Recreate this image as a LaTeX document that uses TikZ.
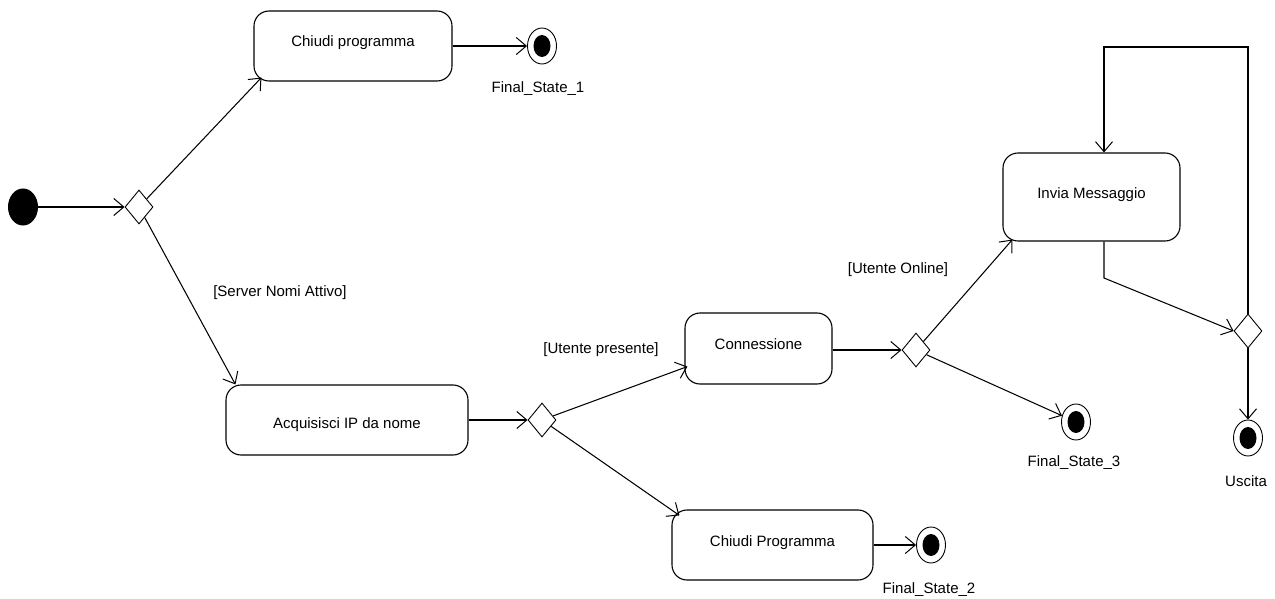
\documentclass[tikz,border=0pt]{standalone}
\usepackage{fontspec}
\setmainfont{Liberation Sans}
\usetikzlibrary{arrows.meta,shapes.geometric,calc}
\begin{document}
\begin{tikzpicture}[x=1pt,y=-1pt,
  every node/.style={font=\fontsize{15}{18}\selectfont},
  activity/.style={draw, rectangle, rounded corners=15pt, line width=1.1pt,
    inner sep=0pt, text height=10pt, text depth=8pt},
  decision/.style={draw, diamond, line width=0.9pt, minimum width=28pt,
    minimum height=34pt, inner sep=0pt},
  start/.style={fill, ellipse, minimum width=30pt, minimum height=37pt, inner sep=0pt},
  final/.style={draw, ellipse, line width=0.9pt, minimum width=29pt,
    minimum height=36pt, inner sep=0pt,
    path picture={\fill (path picture bounding box.center) ellipse (8.5pt and 11pt);}},
  flow/.style={line width=1.05pt, -{Straight Barb[length=10pt,width=17pt,line width=1pt]}},
  guard/.style={inner sep=0pt}]
\useasboundingbox (0,0) rectangle (1275,599);

% states
\node[start] (init) at (23,207) {};
\node[decision] (d1) at (139,207) {};
\node[activity, minimum width=198pt, minimum height=70pt] (cp1) at (353,46) {Chiudi programma};
\node[final] (fs1) at (542,46) {};
\node (fs1l) at (538,89) {Final\_State\_1};

\node[activity, minimum width=242pt, minimum height=70pt, text height=18pt, text depth=1.6pt] (acq) at (347,420) {Acquisisci IP da nome};
\node[decision] (d2) at (542,420) {};

\node[activity, minimum width=147pt, minimum height=71pt] (conn) at (758.5,348.5) {Connessione};
\node[decision] (d3) at (916,350) {};

\node[activity, minimum width=177pt, minimum height=88pt] (invia) at (1091.5,197) {Invia Messaggio};
\node[final] (fs3) at (1076,422) {};
\node (fs3l) at (1074,463) {Final\_State\_3};

\node[decision] (d4) at (1248,331) {};
\node[final] (fs4) at (1248,438) {};
\node (fs4l) at (1246,481) {Uscita};

\node[activity, minimum width=201pt, minimum height=70pt] (cp2) at (772.5,545) {Chiudi Programma};
\node[final] (fs2) at (931,545) {};
\node (fs2l) at (929,590) {Final\_State\_2};

% guards
\node[guard] (g1) at (280,293) {[Server Nomi Attivo]};
\node[guard] (g2) at (601,350) {[Utente presente]};
\node[guard] (g3) at (898,270) {[Utente Online]};

% helper points
\coordinate (out) at ($(invia.south)+(12.5,0)$);
\coordinate (bend) at (1104,278);
\coordinate (loop) at (1104,47);
\coordinate (inviaIn) at ($(invia.north)+(12.5,0)$);

% transitions
\draw[flow] (init) -- (d1);
\draw[flow] (d1) -- ($(cp1.south west)+(8,-4)$);
\draw[flow] (d1) -- ($(acq.north west)+(10,0)$);
\draw[flow] (cp1) -- (fs1);
\draw[flow] (acq) -- (d2);
\draw[flow] (d2) -- ($(conn.south west)+(3,-18)$);
\draw[flow] (d2) -- ($(cp2.north west)+(8,6)$);
\draw[flow] (cp2) -- (fs2);
\draw[flow] (conn.east |- d3) -- (d3);
\draw[flow] (d3) -- ($(invia.south west)+(10,-2)$);
\draw[flow] (d3) -- (fs3);
\draw[flow] (out) -- (bend) -- (d4.west);
\draw[flow] (d4.north) |- (loop) -- (inviaIn);
\draw[flow] (d4) -- (fs4);
\end{tikzpicture}
\end{document}
